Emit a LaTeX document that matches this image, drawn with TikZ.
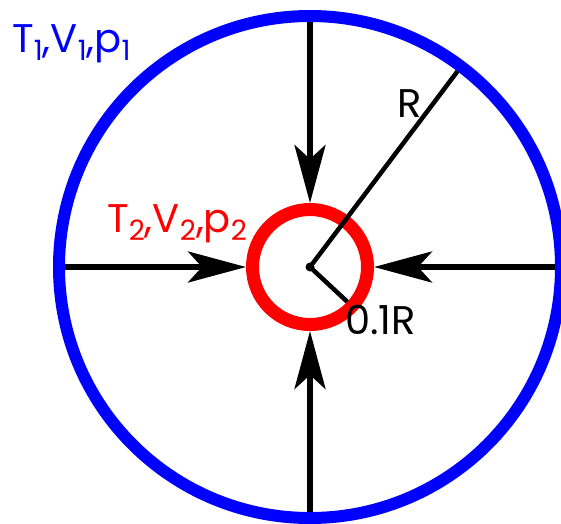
\documentclass[tikz,border=0pt]{standalone}
\usepackage{fontspec}
\setmainfont{Poppins}
\usetikzlibrary{arrows.meta,backgrounds}
\newcommand\lowsub[1]{\raisebox{-0.22em}{\fontsize{28}{28}\selectfont #1}}
\begin{document}
\begin{tikzpicture}[x=1pt,y=-1pt,
  arr/.style={line width=5.5pt,-{Stealth[length=58pt,width=31pt,inset=14pt]}},
  lbl/.style={font=\fontsize{40}{40}\selectfont,inner sep=0pt,anchor=base west}]
\useasboundingbox (0,0) rectangle (561,523);
\coordinate (c) at (310,267);
\node[circle,draw=blue,line width=12pt,minimum size=502pt,inner sep=0pt,outer sep=-6pt] (outer) at (c) {};
\node[circle,draw=red,line width=13pt,minimum size=115pt,inner sep=0pt] (inner) at (c) {};
\begin{scope}[on background layer]
  \draw[arr] (outer.north) -- (inner.north);
  \draw[arr] (outer.south) -- (inner.south);
  \draw[arr] (outer.west) -- (inner.west);
  \draw[arr] (outer.east) -- (inner.east);
\end{scope}
\coordinate (rend) at ([shift={(53:245pt)}]c);
\coordinate (rsmall) at ([shift={(-43:51pt)}]c);
\draw[line width=4.5pt] (c) -- (rend);
\draw[line width=4.5pt] (c) -- (rsmall);
\node[circle,fill=black,inner sep=0pt,minimum size=9pt] (dot) at (c) {};
\node[lbl,text=blue] (l1) at (12,52) {T\lowsub{1},V\lowsub{1},p\lowsub{1}};
\node[lbl,text=red] (l2) at (107,232) {T\lowsub{2},V\lowsub{2},p\lowsub{2}};
\node[lbl] (lr) at (397,117) {R};
\node[lbl] (lr2) at (345,334) {0.1R};
\end{tikzpicture}
\end{document}
